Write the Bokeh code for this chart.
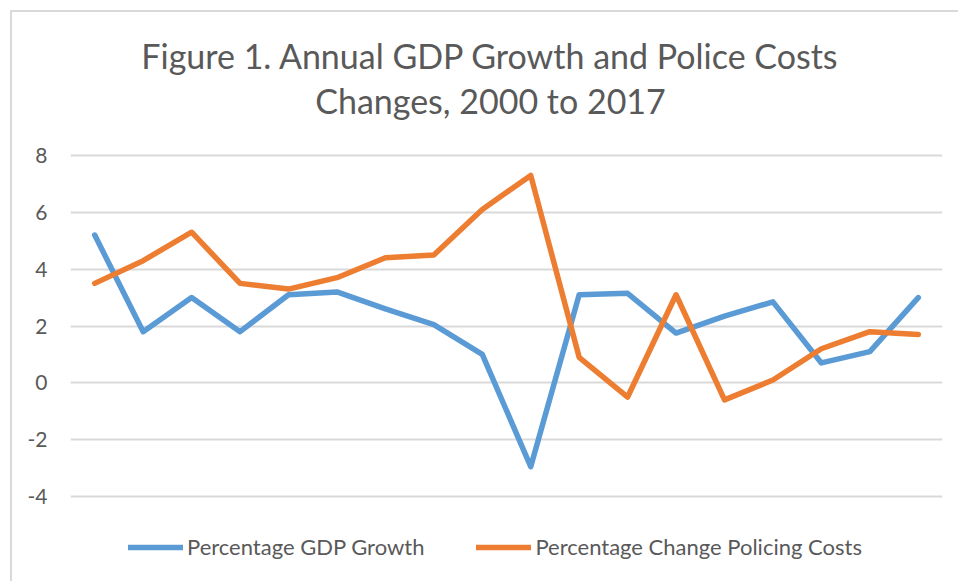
from bokeh.plotting import figure
from bokeh.models import Range1d, Label, Legend, LegendItem, FixedTicker
from bokeh.embed import file_html
from bokeh.resources import INLINE

years = list(range(2000, 2018))
gdp_growth = [5.2, 1.8, 3.0, 1.8, 3.1, 3.2, 2.6, 2.05, 1.0, -2.95, 3.1, 3.15, 1.75, 2.35, 2.85, 0.7, 1.1, 3.0]
police_costs = [3.5, 4.3, 5.3, 3.5, 3.3, 3.7, 4.4, 4.5, 6.1, 7.3, 0.9, -0.5, 3.1, -0.6, 0.1, 1.2, 1.8, 1.7]
y_ticks = [-4, -2, 0, 2, 4, 6, 8]
title_lines = ["Figure 1. Annual GDP Growth and Police Costs", "Changes, 2000 to 2017"]
series_names = ["Percentage GDP Growth", "Percentage Change Policing Costs"]

FONT = "Lato"
GRAY = "#595959"

W, H = 958, 581
# the frame spans the full height so that title and legend (drawn inside it)
# are not clipped; gridlines sit between GRID_TOP and GRID_BOTTOM
GRID_TOP, GRID_BOTTOM = 155, 496
unit_px = (GRID_BOTTOM - GRID_TOP) / (y_ticks[-1] - y_ticks[0])
y_end = y_ticks[-1] + GRID_TOP / unit_px
y_start = y_ticks[0] - (H - GRID_BOTTOM) / unit_px

p = figure(width=W, height=H, output_backend="svg", toolbar_location=None,
           x_range=Range1d(years[0] - 0.5, years[-1] + 0.5),
           y_range=Range1d(y_start, y_end),
           min_border_left=70, min_border_right=16, min_border_bottom=0,
           min_border_top=0)
p.styles = {"box-shadow": "inset 10px 10px 0 0 #ffffff, inset 12px 12px 0 0 #d9d9d9"}
p.border_fill_alpha = 0
p.background_fill_alpha = 0
p.outline_line_color = None
p.title.visible = False
p.xaxis.visible = False
p.xgrid.visible = False
p.ygrid.grid_line_color = "#d9d9d9"
p.ygrid.grid_line_width = 2
p.yaxis.ticker = FixedTicker(ticks=y_ticks)
p.yaxis.major_label_overrides = {t: str(t) for t in y_ticks}
p.yaxis.axis_line_color = None
p.yaxis.major_tick_line_color = None
p.yaxis.minor_tick_line_color = None
p.yaxis.major_label_text_font = FONT
p.yaxis.major_label_text_font_size = "21px"
p.yaxis.major_label_text_color = GRAY
p.yaxis.major_label_standoff = 17

r1 = p.line(years, gdp_growth, line_color="#5B9BD5", line_width=5.5, line_join="round", line_cap="round")
r2 = p.line(years, police_costs, line_color="#ED7D31", line_width=5.5, line_join="round", line_cap="round")

for txt, y_px in zip(title_lines, [H - 55, H - 100]):
    p.add_layout(Label(x=490 - 70, y=y_px, x_units="screen", y_units="screen", text=txt,
                       text_align="center", text_baseline="middle", text_font=FONT,
                       text_font_size="34px", text_color=GRAY))

legend = Legend(items=[LegendItem(label=series_names[0], renderers=[r1]),
                       LegendItem(label=series_names[1], renderers=[r2])],
                orientation="horizontal", location=(58, 21),
                label_text_font=FONT, label_text_font_size="22px", label_text_color=GRAY,
                glyph_width=55, glyph_height=24, label_standoff=4, spacing=52,
                border_line_color=None, background_fill_alpha=0, margin=0, padding=0)
p.add_layout(legend, "center")

open("out.html", "w").write(file_html(p, INLINE))
